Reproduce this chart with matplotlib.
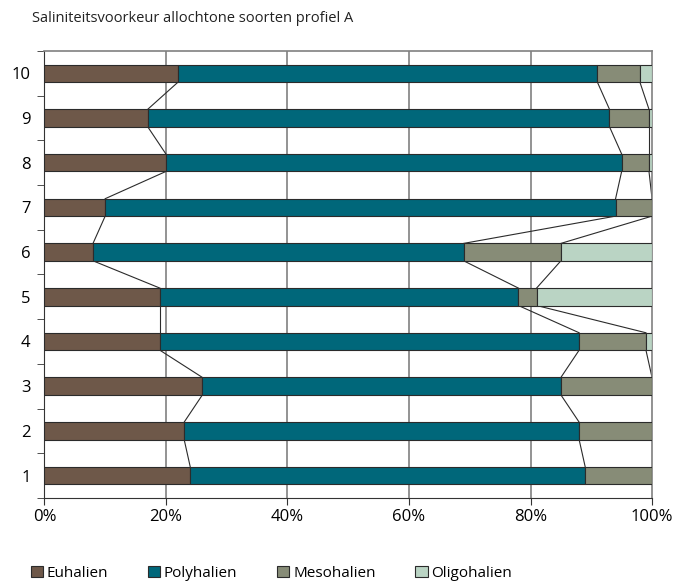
import numpy as np
import matplotlib
matplotlib.use('Agg')
from matplotlib import pyplot as plt
from matplotlib.patches import Patch

# profielen 1..10 (van onder naar boven)
profielen = [1, 2, 3, 4, 5, 6, 7, 8, 9, 10]
euhalien    = [24, 23, 26, 19, 19,  8, 10, 20, 17, 22]
polyhalien  = [65, 65, 59, 69, 59, 61, 84, 75, 76, 69]
mesohalien  = [11, 12, 15, 11,  3, 16,  6,  4.5, 6.5, 7]
oligohalien = [ 0,  0,  0,  1, 19, 15,  0,  0.5, 0.5, 2]

reeksen = ['Euhalien', 'Polyhalien', 'Mesohalien', 'Oligohalien']
kleuren = ['#6e5849', '#00677a', '#878c77', '#bad4c4']
x_ticks = [0, 20, 40, 60, 80, 100]
x_labels = ['0%', '20%', '40%', '60%', '80%', '100%']

plt.rcParams['font.family'] = ['Open Sans', 'DejaVu Sans']

data = np.array([euhalien, polyhalien, mesohalien, oligohalien], dtype=float)
cum = np.cumsum(data, axis=0)
y = np.array(profielen, dtype=float)
h = 0.39

fig = plt.figure(figsize=(6.78, 5.83), dpi=100)
ax = fig.add_axes([0.0655, 0.146, 0.8962, 0.7665])

left = np.zeros(len(y))
for k in range(4):
    ax.barh(y, data[k], height=h, left=left, color=kleuren[k],
            edgecolor='#2b2b2b', linewidth=0.8, zorder=3)
    left = left + data[k]

# verbindingslijnen tussen de balken
for i in range(len(y) - 1):
    for k in range(3):
        ax.plot([cum[k, i], cum[k, i + 1]], [y[i] + h / 2, y[i + 1] - h / 2],
                color='#2b2b2b', lw=0.8, zorder=2)

ax.set_xlim(0, 100)
ax.set_ylim(0.5, 10.5)
ax.set_xticks(x_ticks)
ax.set_xticklabels(x_labels, fontsize=12)
ax.set_yticks(y)
ax.set_yticklabels([str(p) for p in profielen], fontsize=12)
ax.tick_params(axis='y', length=0, pad=10)
ax.set_yticks(np.arange(0.5, 10.6, 1), minor=True)
ax.tick_params(axis='y', which='minor', length=5, direction='out', color='#333333')
ax.tick_params(axis='x', length=5, direction='out', color='#333333', pad=3)

for xv in [20, 40, 60, 80]:
    ax.axvline(xv, color='#808080', lw=1.2, zorder=1)

ax.spines['top'].set_color('#808080')
ax.spines['right'].set_color('#808080')
ax.spines['top'].set_linewidth(1.2)
ax.spines['right'].set_linewidth(1.2)
ax.spines['left'].set_color('#333333')
ax.spines['bottom'].set_color('#333333')

fig.text(0.047, 0.968, 'Saliniteitsvoorkeur allochtone soorten profiel A',
         fontsize=10.5, va='center', ha='left', color='#222222')

handles = [Patch(facecolor=c, edgecolor='#2b2b2b', linewidth=0.8) for c in kleuren]
fig.legend(handles, reeksen, loc='center left', bbox_to_anchor=(0.045, 0.017),
           ncol=4, frameon=False, fontsize=11, handlelength=0.8, handleheight=0.8,
           handletextpad=0.25, columnspacing=2.6, borderaxespad=0, borderpad=0)

plt.savefig('out.png', dpi=100)
